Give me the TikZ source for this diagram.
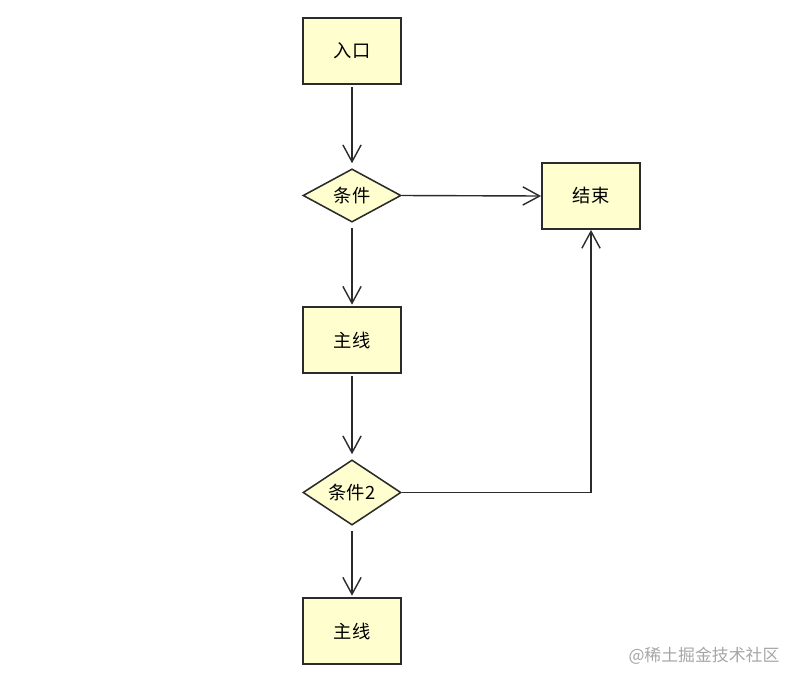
\documentclass[tikz,border=0pt]{standalone}
\usepackage{fontspec}
\setmainfont{Noto Sans CJK SC}
\usetikzlibrary{positioning, arrows.meta, shapes.geometric}
\definecolor{boxfill}{HTML}{FEFECE}
\definecolor{edgecol}{HTML}{2B2B2B}

\begin{document}
\begin{tikzpicture}[x=0.025cm, y=-0.025cm,
  >={Straight Barb[length=12pt, width=13pt, line width=1pt]},
  font=\fontsize{13}{15}\selectfont,
  box/.style={draw=edgecol, fill=boxfill, line width=1.3pt,
    minimum width=2.45cm, minimum height=1.65cm, inner sep=0pt},
  cond/.style={draw=edgecol, fill=boxfill, line width=1.1pt, diamond, aspect=2,
    minimum width=2.45cm, inner sep=0pt},
  flow/.style={->, draw=edgecol, line width=1pt}]
  \useasboundingbox (0,0) rectangle (800,685);
  % --- main column ---
  \node[box] (entry) at (352,51) {入口};
  \node[cond, minimum height=1.33cm] (cond) at (352,195.5) {条件};
  \node[box] (main) at (352,340) {主线};
  \node[cond, minimum height=1.63cm] (condtwo) at (352,492.5) {条件2};
  \node[box] (maintwo) at (352,631) {主线};
  % --- exit ---
  \node[box] (exit) at (591,196) {结束};
  % --- connectors ---
  \draw[flow, shorten <=1.5pt, shorten >=3.5pt] (entry.south) -- (cond.north);
  \draw[flow] (cond.east) -- (exit.west);
  \draw[flow, shorten <=3.5pt, shorten >=1pt] (cond.south) -- (main.north);
  \draw[flow, shorten <=1.5pt, shorten >=3.5pt] (main.south) -- (condtwo.north);
  \draw[flow] (condtwo.east) -| (exit.south);
  \draw[flow, shorten <=3.5pt, shorten >=1pt] (condtwo.south) -- (maintwo.north);
  % --- watermark ---
  \node[text=black!35, font=\fontsize{12}{14}\selectfont] (mark) at (704,656) {@稀土掘金技术社区};
\end{tikzpicture}
\end{document}
